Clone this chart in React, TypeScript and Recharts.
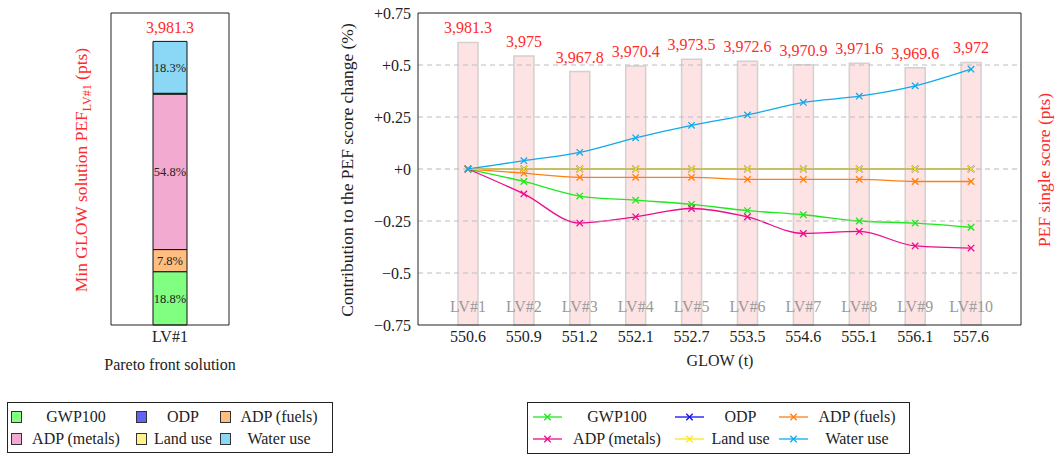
import React from 'react';
import {
  BarChart, ComposedChart, Bar, Line, XAxis, YAxis, LabelList, ReferenceLine,
} from 'recharts';

// Pareto front solutions
const categories = ['LV#1', 'LV#2', 'LV#3', 'LV#4', 'LV#5', 'LV#6', 'LV#7', 'LV#8', 'LV#9', 'LV#10'];
const glowTonnes = ['550.6', '550.9', '551.2', '552.1', '552.7', '553.5', '554.6', '555.1', '556.1', '557.6'];
const pefScore = [3981.3, 3975, 3967.8, 3970.4, 3973.5, 3972.6, 3970.9, 3971.6, 3969.6, 3972];

// contribution of each impact category to the PEF change vs LV#1 (%)
const gwp100 = [0, -0.06, -0.13, -0.15, -0.17, -0.2, -0.22, -0.25, -0.26, -0.28];
const odp = [0, 0, 0, 0, 0, 0, 0, 0, 0, 0];
const adpFuels = [0, -0.02, -0.04, -0.04, -0.04, -0.05, -0.05, -0.05, -0.06, -0.06];
const adpMetals = [0, -0.12, -0.26, -0.23, -0.19, -0.23, -0.31, -0.3, -0.37, -0.38];
const landUse = [0, 0, 0, 0, 0, 0, 0, 0, 0, 0];
const waterUse = [0, 0.04, 0.08, 0.15, 0.21, 0.26, 0.32, 0.35, 0.4, 0.48];

// LV#1 breakdown (share of single score, %)
const lv1Total = 3981.3;
const impactKeys = ['gwp', 'odp', 'fuels', 'metals', 'land', 'water'];
const impactNames = ['GWP100', 'ODP', 'ADP (fuels)', 'ADP (metals)', 'Land use', 'Water use'];
const lv1SharePct = [18.8, 0, 7.8, 54.8, 0.3, 18.3];

const pctTicks = [-0.75, -0.5, -0.25, 0, 0.25, 0.5, 0.75];
const pctGrid = [-0.5, -0.25, 0.25, 0.5];
const scoreTicks = [3860, 3880, 3900, 3920, 3940, 3960, 3980];
const lv1Ticks = [1000, 2000, 3000, 4000];

const LINE_COLORS: Record<string, string> = {
  gwp: '#1ee81e',
  odp: '#1010f0',
  fuels: '#ff7f10',
  metals: '#ec0c8c',
  land: '#f8e81a',
  water: '#10aaea',
};
const FILL_COLORS: Record<string, string> = {
  gwp: '#80ff80',
  odp: '#6464f4',
  fuels: '#ffbe80',
  metals: '#f3aad0',
  land: '#fff38a',
  water: '#8ad8f6',
};

const FONT = "'Liberation Serif', serif";
const TEXT = '#222';
const RED = '#ff2a2a';
const FS = 16;

const lineData = categories.map((lv, i) => ({
  lv,
  glow: glowTonnes[i],
  score: pefScore[i],
  gwp: gwp100[i],
  odp: odp[i],
  fuels: adpFuels[i],
  metals: adpMetals[i],
  land: landUse[i],
  water: waterUse[i],
}));

const stackRow: Record<string, number | string> = { lv: 'LV#1', total: lv1Total };
impactKeys.forEach((k, i) => {
  stackRow[k] = (lv1Total * lv1SharePct[i]) / 100;
  stackRow[k + 'Pct'] = lv1SharePct[i];
});
const stackData = [stackRow];

const fmtScore = (v: number) => Number(v).toLocaleString('en-US', { maximumFractionDigits: 1 });
const fmtPct = (v: number) => (v > 0 ? `+${v}` : v < 0 ? `\u2212${Math.abs(v)}` : '+0');

const CrossDot = (props: any) => {
  const { cx, cy, stroke } = props;
  if (cx == null || cy == null) return null;
  const s = 3.2;
  return (
    <path
      d={`M${cx - s},${cy - s}L${cx + s},${cy + s}M${cx - s},${cy + s}L${cx + s},${cy - s}`}
      stroke={stroke}
      strokeWidth={1.3}
      fill="none"
    />
  );
};

const rotated = (x: number, y: number, color: string, size: number, children: React.ReactNode) => (
  <div
    style={{
      position: 'absolute', left: x, top: y, transform: 'translate(-50%, -50%) rotate(-90deg)',
      whiteSpace: 'nowrap', color, fontSize: size,
    }}
  >
    {children}
  </div>
);

function LeftChart() {
  return (
    <div style={{ position: 'absolute', left: 0, top: 0 }}>
      <BarChart width={240} height={360} data={stackData} margin={{ top: 13, right: 11, bottom: 5, left: 111 }}
        style={{ fontFamily: FONT }}>
        <XAxis dataKey="lv" height={30} tickSize={0} tickMargin={6} axisLine={{ stroke: '#222' }}
          tick={{ fill: TEXT, fontSize: FS, fontFamily: FONT }} />
        <XAxis xAxisId="top" dataKey="lv" orientation="top" mirror tick={false} tickSize={6}
          axisLine={{ stroke: '#222' }} tickLine={{ stroke: '#555' }} />
        <YAxis domain={[0, 4380]} ticks={lv1Ticks} mirror tick={false} tickSize={6}
          axisLine={{ stroke: '#222' }} tickLine={{ stroke: '#555' }} />
        <YAxis yAxisId="r" orientation="right" domain={[0, 4380]} ticks={lv1Ticks} mirror tick={false}
          tickSize={6} axisLine={{ stroke: '#222' }} tickLine={{ stroke: '#555' }} />
        {impactKeys.map((k, i) => (
          <Bar key={k} dataKey={k} stackId="lv1" barSize={34} fill={FILL_COLORS[k]} stroke="#111"
            strokeWidth={1} isAnimationActive={false}>
            {lv1SharePct[i] >= 5 && (
              <LabelList dataKey={k + 'Pct'} position="center" formatter={(v: any) => `${v}%`}
                style={{ fill: TEXT, fontSize: 12.5, fontFamily: FONT }} />
            )}
            {k === 'water' && (
              <LabelList dataKey="total" position="top" offset={8} formatter={(v: any) => fmtScore(v)}
                style={{ fill: RED, fontSize: FS, fontFamily: FONT }} />
            )}
          </Bar>
        ))}
      </BarChart>
      {rotated(83, 170, RED, 17.5, (
        <span>Min GLOW solution PEF<sub style={{ fontSize: 12 }}>LV#1</sub> (pts)</span>
      ))}
      <div style={{ position: 'absolute', left: 170, top: 365, transform: 'translate(-50%, -50%)', whiteSpace: 'nowrap', color: TEXT, fontSize: FS }}>
        Pareto front solution
      </div>
    </div>
  );
}

function RightChart() {
  const pad = { left: 22, right: 22 };
  return (
    <div style={{ position: 'absolute', left: 330, top: 0 }}>
      <ComposedChart width={732} height={360} data={lineData} margin={{ top: 13, right: 41, bottom: 5, left: 0 }}
        style={{ fontFamily: FONT }}>
        <XAxis dataKey="glow" height={30} padding={pad} tickSize={0} tickMargin={6}
          axisLine={{ stroke: '#222' }} tick={{ fill: TEXT, fontSize: FS, fontFamily: FONT }} />
        <XAxis xAxisId="bottomTicks" dataKey="glow" padding={pad} mirror tick={false} tickSize={5}
          axisLine={false} tickLine={{ stroke: '#555' }} />
        <XAxis xAxisId="top" dataKey="glow" orientation="top" padding={pad} mirror tick={false} tickSize={6}
          axisLine={{ stroke: '#222' }} tickLine={{ stroke: '#555' }} />
        <YAxis yAxisId="pct" domain={[-0.75, 0.75]} ticks={pctTicks} width={88} tickSize={0} tickMargin={7}
          tickFormatter={fmtPct} axisLine={{ stroke: '#222' }} tick={{ fill: TEXT, fontSize: FS, fontFamily: FONT }} />
        <YAxis yAxisId="score" orientation="right" domain={[3850, 3995]} ticks={scoreTicks} mirror tick={false}
          tickSize={6} axisLine={{ stroke: '#222' }} tickLine={{ stroke: '#555' }} />
        <Bar yAxisId="score" dataKey="score" barSize={20} fill="#fde3e3" stroke="#d4d0d0" strokeWidth={1.5}
          isAnimationActive={false}>
          <LabelList dataKey="score" position="top" offset={9} formatter={(v: any) => fmtScore(v)}
            style={{ fill: RED, fontSize: FS, fontFamily: FONT }} />
          <LabelList dataKey="lv" position="insideBottom" offset={13}
            style={{ fill: '#9a9a9a', fontSize: FS, fontFamily: FONT }} />
        </Bar>
        {impactKeys.map((k) => (
          <Line key={k} yAxisId="pct" type="monotone" dataKey={k} stroke={LINE_COLORS[k]} strokeWidth={1.3}
            dot={<CrossDot />} activeDot={false} isAnimationActive={false} />
        ))}
        {pctGrid.map((v) => (
          <ReferenceLine key={v} yAxisId="pct" y={v} stroke="#bdbdbd" strokeDasharray="5 4" />
        ))}
        <ReferenceLine yAxisId="pct" y={0} stroke="#b8b8a8" strokeDasharray="5 4" />
      </ComposedChart>
      {rotated(17, 170, TEXT, 17.5, 'Contribution to the PEF score change (%)')}
      {rotated(714, 170, RED, 17.5, 'PEF single score (pts)')}
      <div style={{ position: 'absolute', left: 390, top: 361, transform: 'translate(-50%, -50%)', whiteSpace: 'nowrap', color: TEXT, fontSize: FS }}>
        GLOW (t)
      </div>
    </div>
  );
}

// legend cells: [sample left, text cell left, text cell width]
const fillLegendCols = [[11, 22, 108], [136, 147, 72], [220, 231, 96]];
const lineLegendCols = [[533, 562, 110], [675, 704, 73], [779, 809, 96]];

function FillLegend() {
  return (
    <>
      <div style={{ position: 'absolute', left: 7, top: 402, width: 326, height: 51, border: '1px solid #222', boxSizing: 'border-box' }} />
      {impactKeys.map((k, i) => {
        const [sx, tx, tw] = fillLegendCols[i % 3];
        const y = i < 3 ? 417 : 439;
        return (
          <React.Fragment key={k}>
            <div style={{ position: 'absolute', left: sx, top: y - 6, width: 9, height: 10, background: FILL_COLORS[k], border: '1px solid #333' }} />
            <div style={{ position: 'absolute', left: tx, top: y, width: tw, transform: 'translateY(-50%)', textAlign: 'center', whiteSpace: 'nowrap', fontSize: FS, color: TEXT }}>
              {impactNames[i]}
            </div>
          </React.Fragment>
        );
      })}
    </>
  );
}

function LineLegend() {
  return (
    <>
      <div style={{ position: 'absolute', left: 527, top: 402, width: 383, height: 52, border: '1px solid #222', boxSizing: 'border-box' }} />
      {impactKeys.map((k, i) => {
        const [sx, tx, tw] = lineLegendCols[i % 3];
        const y = i < 3 ? 417 : 439;
        return (
          <React.Fragment key={k}>
            <svg style={{ position: 'absolute', left: sx, top: y - 5 }} width={30} height={10}>
              <line x1={0} y1={5} x2={29} y2={5} stroke={LINE_COLORS[k]} strokeWidth={1.3} />
              <CrossDot cx={14.5} cy={5} stroke={LINE_COLORS[k]} />
            </svg>
            <div style={{ position: 'absolute', left: tx, top: y, width: tw, transform: 'translateY(-50%)', textAlign: 'center', whiteSpace: 'nowrap', fontSize: FS, color: TEXT }}>
              {impactNames[i]}
            </div>
          </React.Fragment>
        );
      })}
    </>
  );
}

export default function App() {
  return (
    <div style={{ position: 'fixed', left: 0, top: 0, width: 1062, height: 462, background: '#fff', fontFamily: FONT, overflow: 'hidden' }}>
      <LeftChart />
      <RightChart />
      <FillLegend />
      <LineLegend />
    </div>
  );
}
